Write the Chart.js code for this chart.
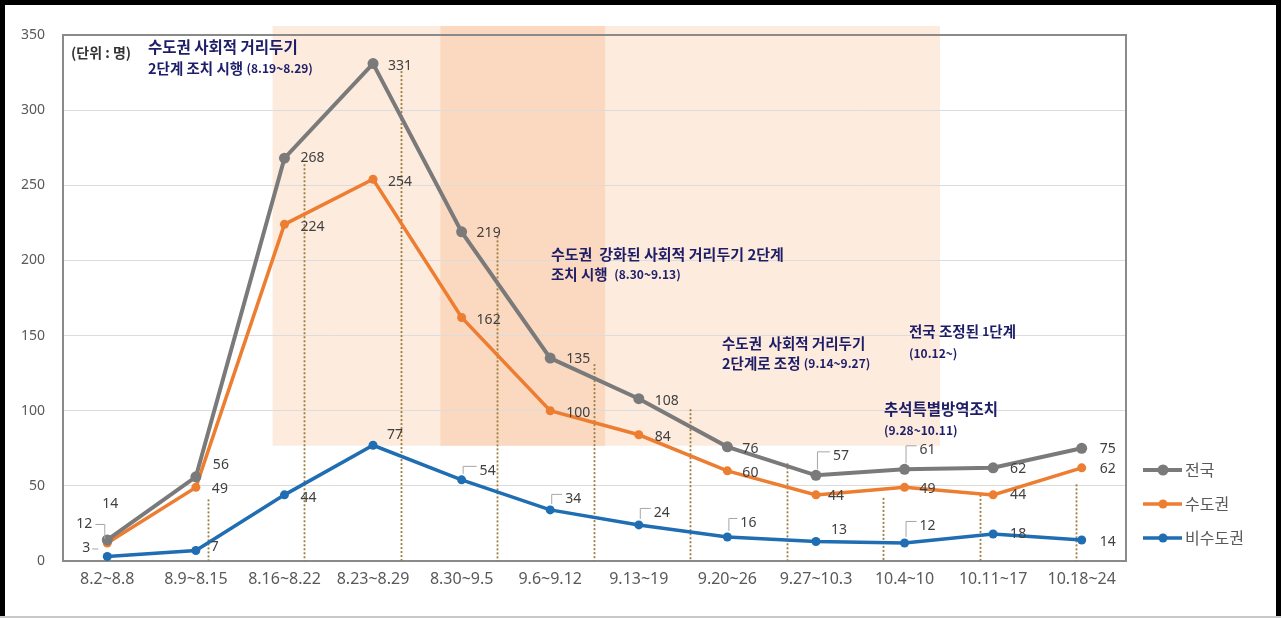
<!DOCTYPE html>
<html>
<head>
<meta charset="utf-8">
<script src="https://cdn.jsdelivr.net/npm/chart.js@4"></script>
<style>
  html, body { margin: 0; padding: 0; background: #fff; }
  #wrap { width: 1281px; height: 618px; }
</style>
</head>
<body>
<div id="wrap"><canvas id="weeklyChart" width="1281" height="618"></canvas></div>
<script>
// 주별 일평균 확진자 (단위: 명)
const weeks = ['8.2~8.8', '8.9~8.15', '8.16~8.22', '8.23~8.29', '8.30~9.5', '9.6~9.12',
  '9.13~19', '9.20~26', '9.27~10.3', '10.4~10', '10.11~17', '10.18~24'];
const nationwide = [14, 56, 268, 331, 219, 135, 108, 76, 57, 61, 62, 75];
const capitalArea = [12, 49, 224, 254, 162, 100, 84, 60, 44, 49, 44, 62];
const nonCapital = [3, 7, 44, 77, 54, 34, 24, 16, 13, 12, 18, 14];
const yTicks = [0, 50, 100, 150, 200, 250, 300, 350];
// 점선 안내선 윗끝 (값)
const guideTops = [41, 264, 326, 216, 131, 101, 65, 42, 44, 51];

const FONT = "'Noto Sans', 'Noto Sans CJK KR', sans-serif";
const KFONT = "'Noto Sans CJK KR', sans-serif";
const NAVY = '#1d1d68';

// 라벨 위치 (점 기준 dx, dy), leader: 꺾은 지시선
const labelStyle = [
  { offs: [[3,-36],[25,-12],[28,0],[27,2],[27,1],[28,1],[28,2],[23,2],[25,-19],[23,-19],[25,1],[26,1]],
    leader: [false,false,false,false,false,false,false,false,true,true,false,false] },
  { offs: [[-23,-19],[24,2],[28,3],[27,3],[27,2],[28,2],[24,2],[23,2],[20,1],[23,2],[25,0],[26,1]],
    leader: ['left',false,false,false,false,false,false,false,false,false,false,false] },
  { offs: [[-21,-8],[19,-3],[24,3],[22,-10],[26,-9],[23,-11],[23,-12],[21,-14],[23,-11],[23,-17],[25,0],[26,2]],
    leader: ['dash',false,false,false,true,true,true,true,false,true,false,false] }
];

const bgPlugin = {
  id: 'bg',
  beforeDraw(chart) {
    const { ctx } = chart;
    const x = chart.scales.x, y = chart.scales.y;
    ctx.save();
    ctx.fillStyle = '#fff';
    ctx.fillRect(0, 0, chart.width, chart.height);
    // 거리두기 단계 음영
    const bands = [
      { from: 1.866, to: 9.40, color: '#fdebdd' },
      { from: 3.76, to: 5.62, color: '#fbd9c1' }
    ];
    bands.forEach(b => {
      const x0 = x.getPixelForValue(b.from), x1 = x.getPixelForValue(b.to);
      const y0 = y.getPixelForValue(356), y1 = y.getPixelForValue(76.7);
      ctx.fillStyle = b.color;
      ctx.fillRect(x0, y0, x1 - x0, y1 - y0);
    });
    ctx.restore();
  },
  beforeDatasetsDraw(chart) {
    const { ctx, chartArea: a } = chart;
    const y = chart.scales.y;
    ctx.save();
    // 점선 안내선
    const meta = chart.getDatasetMeta(3);
    ctx.strokeStyle = '#9c7d3e';
    ctx.lineWidth = 1.8;
    ctx.setLineDash([2, 2]);
    meta.data.forEach(p => {
      ctx.beginPath();
      ctx.moveTo(Math.round(p.x) + 0.5, p.y);
      ctx.lineTo(Math.round(p.x) + 0.5, y.getPixelForValue(0));
      ctx.stroke();
    });
    ctx.setLineDash([]);
    // 상단, 우측 테두리
    ctx.strokeStyle = '#8a8a8a';
    ctx.lineWidth = 2;
    ctx.beginPath();
    ctx.moveTo(a.left, a.top);
    ctx.lineTo(a.right, a.top);
    ctx.lineTo(a.right, a.bottom);
    ctx.stroke();
    ctx.restore();
  },
  afterDatasetsDraw(chart) {
    const { ctx } = chart;
    ctx.save();
    ctx.font = '14px ' + FONT;
    ctx.fillStyle = '#404040';
    ctx.textBaseline = 'middle';
    ctx.textAlign = 'center';
    for (let d = 0; d < 3; d++) {
      const meta = chart.getDatasetMeta(d);
      const vals = chart.data.datasets[d].data;
      meta.data.forEach((p, i) => {
        const [dx, dy] = labelStyle[d].offs[i];
        const lx = p.x + dx, ly = p.y + dy;
        const txt = String(vals[i]);
        ctx.fillText(txt, lx, ly);
        const lead = labelStyle[d].leader[i];
        const w = ctx.measureText(txt).width;
        ctx.strokeStyle = '#a6a6a6';
        ctx.lineWidth = 1;
        if (lead === true) {
          ctx.beginPath();
          ctx.moveTo(p.x + 1.5, p.y - 6);
          ctx.lineTo(p.x + 1.5, ly - 4.5);
          ctx.lineTo(lx - w / 2 - 3, ly - 4.5);
          ctx.stroke();
        } else if (lead === 'left') {
          ctx.beginPath();
          ctx.moveTo(lx + w / 2 + 3, ly + 0.5);
          ctx.lineTo(p.x - 2.5, ly + 0.5);
          ctx.lineTo(p.x - 2.5, p.y - 4);
          ctx.stroke();
        } else if (lead === 'dash') {
          ctx.beginPath();
          ctx.moveTo(lx + w / 2 + 2, ly + 0.5);
          ctx.lineTo(lx + w / 2 + 8, ly + 0.5);
          ctx.stroke();
        }
      });
    }
    ctx.restore();
  },
  afterDraw(chart) {
    const { ctx } = chart;
    ctx.save();
    // 범례
    ctx.textBaseline = 'middle';
    ctx.textAlign = 'left';
    ctx.font = '16px ' + KFONT;
    [470, 504, 538].forEach((ly, d) => {
      const ds = chart.data.datasets[d];
      ctx.strokeStyle = ds.borderColor;
      ctx.lineWidth = ds.borderWidth;
      ctx.beginPath();
      ctx.moveTo(1143, ly);
      ctx.lineTo(1182, ly);
      ctx.stroke();
      ctx.fillStyle = ds.borderColor;
      ctx.beginPath();
      ctx.arc(1163, ly, ds.pointRadius, 0, Math.PI * 2);
      ctx.fill();
      ctx.fillStyle = '#595959';
      ctx.fillText(ds.label, 1185, ly);
    });

    // 설명 문구
    const rich = (x, y, parts, color) => {
      ctx.fillStyle = color || NAVY;
      let cx = x;
      parts.forEach(([t, size]) => {
        ctx.font = 'bold ' + size + 'px ' + KFONT;
        ctx.fillText(t, cx, y);
        cx += ctx.measureText(t).width;
      });
    };
    rich(71, 53, [['(단위 : 명)', 14]], '#333333');
    rich(148, 47, [['수도권 사회적 거리두기', 15.5]]);
    rich(148, 68, [['2단계 조치 시행 ', 14.5], ['(8.19~8.29)', 12]]);
    rich(551, 254, [['수도권  강화된 사회적 거리두기 2단계', 15]]);
    rich(551, 274, [['조치 시행  ', 14.5], ['(8.30~9.13)', 12]]);
    rich(722, 343, [['수도권  사회적 거리두기', 14.5]]);
    rich(722, 363, [['2단계로 조정 ', 14.5], ['(9.14~9.27)', 12]]);
    rich(909, 331, [['전국 조정된 ', 14.5], ['1', 12], ['단계', 14.5]]);
    rich(909, 353, [['(10.12~)', 12]]);
    rich(884, 409, [['추석특별방역조치', 15.5]]);
    rich(884, 430, [['(9.28~10.11)', 12]]);

    // 바깥 테두리
    ctx.fillStyle = '#000';
    ctx.fillRect(0, 0, chart.width, 5);
    ctx.fillRect(0, 0, 5, chart.height);
    ctx.fillRect(chart.width - 5, 0, 5, chart.height);
    ctx.fillStyle = '#c8c8c8';
    ctx.fillRect(0, chart.height - 2, chart.width, 2);
    ctx.restore();
  }
};

const ctx = document.getElementById('weeklyChart');
new Chart(ctx, {
  type: 'line',
  data: {
    labels: weeks,
    datasets: [
      { label: '전국', data: nationwide, borderColor: '#7a7a7a', backgroundColor: '#7a7a7a',
        borderWidth: 4, pointRadius: 5.5, pointBorderWidth: 0, tension: 0 },
      { label: '수도권', data: capitalArea, borderColor: '#ed7d31', backgroundColor: '#ed7d31',
        borderWidth: 3.5, pointRadius: 4.5, pointBorderWidth: 0, tension: 0 },
      { label: '비수도권', data: nonCapital, borderColor: '#1f6db2', backgroundColor: '#1f6db2',
        borderWidth: 3.5, pointRadius: 4.5, pointBorderWidth: 0, tension: 0 },
      { label: 'guide', data: guideTops.map((v, k) => ({ x: k + 1, y: v })), xAxisID: 'x2',
        showLine: false, pointRadius: 0, borderColor: 'rgba(0,0,0,0)' }
    ]
  },
  options: {
    responsive: false,
    animation: false,
    events: [],
    layout: { padding: { top: 35, right: 155, left: 0, bottom: 0 } },
    plugins: {
      legend: { display: false },
      tooltip: { enabled: false }
    },
    scales: {
      x: {
        offset: true,
        grid: { display: false, drawTicks: false },
        border: { display: true, color: '#8a8a8a', width: 2 },
        ticks: { color: '#595959', font: { family: FONT, size: 16 }, padding: 9, maxRotation: 0, autoSkip: false },
        afterFit(s) { s.height = 57; }
      },
      x2: {
        type: 'linear', display: false, min: -0.5035, max: 10.519
      },
      y: {
        min: 0, max: 350,
        afterBuildTicks(s) { s.ticks = yTicks.map(v => ({ value: v })); },
        grid: {
          drawTicks: false,
          color: c => (c.tick && (c.tick.value === 0 || c.tick.value === 350)) ? 'rgba(0,0,0,0)' : '#dcdcdc',
          lineWidth: 1
        },
        border: { display: true, color: '#8a8a8a', width: 2 },
        ticks: { color: '#595959', font: { family: FONT, size: 14 }, padding: 18 },
        afterFit(s) { s.width = 63; }
      }
    }
  },
  plugins: [bgPlugin]
});
</script>
</body>
</html>
